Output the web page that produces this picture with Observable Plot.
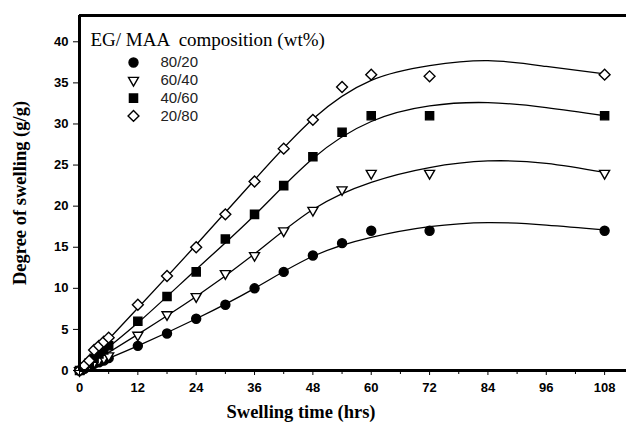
<!DOCTYPE html>
<html><head><meta charset="utf-8">
<script src="https://cdn.jsdelivr.net/npm/d3@7"></script>
<script src="https://cdn.jsdelivr.net/npm/@observablehq/plot@0.6"></script>
<style>
body{margin:0;background:#fff;}
#chart{position:relative;width:626px;height:427px;}
</style>
</head><body><div id="chart"></div>
<script>
// Data
const series = ["80/20", "60/40", "40/60", "20/80"];
const times = [0, 1, 2, 3, 4, 5, 6, 12, 18, 24, 30, 36, 42, 48, 54, 60, 72, 108];
const v8020 = [0, 0.2, 0.5, 0.8, 1.0, 1.2, 1.5, 3.0, 4.5, 6.3, 8.0, 10.0, 12.0, 14.0, 15.5, 17.0, 17.0, 17.0];
const v6040 = [0, 0.3, 0.7, 1.0, 1.3, 1.5, 1.8, 4.3, 6.8, 9.0, 11.8, 14.0, 17.0, 19.5, 22.0, 24.0, 24.0, 24.0];
const v4060 = [0, 0.4, 0.9, 1.5, 2.0, 2.5, 3.0, 6.0, 9.0, 12.0, 16.0, 19.0, 22.5, 26.0, 29.0, 31.0, 31.0, 31.0];
const v2080 = [0, 0.6, 1.2, 2.5, 3.0, 3.5, 4.0, 8.0, 11.5, 15.0, 19.0, 23.0, 27.0, 30.5, 34.5, 36.0, 35.8, 36.0];
// fitted curves, read at these times
const fitTimes = [0, 12, 24, 36, 48, 60, 72, 84, 96, 108];
const f8020 = [0, 3.0, 6.3, 10.0, 13.9, 16.2, 17.5, 18.0, 17.7, 17.1];
const f6040 = [0, 4.4, 9.0, 14.2, 19.6, 22.9, 24.7, 25.5, 25.2, 24.1];
const f4060 = [0, 5.8, 12.3, 18.9, 25.8, 30.3, 32.2, 32.6, 32.0, 31.0];
const f2080 = [0, 7.6, 15.3, 23.2, 30.6, 35.3, 37.1, 37.7, 37.0, 36.1];
const xTicks = [0, 12, 24, 36, 48, 60, 72, 84, 96, 108];
const xMinor = [6, 18, 30, 42, 54, 66, 78, 90, 102];
const yTicks = [0, 5, 10, 15, 20, 25, 30, 35, 40];
const legendTitle = "EG/ MAA  composition (wt%)";
const xLabel = "Swelling time (hrs)";
const yLabel = "Degree of swelling (g/g)";

const values = [v8020, v6040, v4060, v2080];
const fits = [f8020, f6040, f4060, f2080];
const symbols = [
  {symbol: "circle", fill: "black", stroke: "black", r: 4.5, rotate: 0},
  {symbol: "triangle", fill: "white", stroke: "black", r: 3.7, rotate: 180},
  {symbol: "square", fill: "black", stroke: "black", r: 4.6, rotate: 0},
  {symbol: "diamond2", fill: "white", stroke: "black", r: 4.9, rotate: 0}
];

const points = [], curves = [];
series.forEach((s, i) => {
  times.forEach((t, j) => points.push({series: s, i, t, v: values[i][j]}));
  fitTimes.forEach((t, j) => curves.push({series: s, t, v: fits[i][j]}));
});

const yMax = 43.2, xMax = 112.5;
const serif = "Liberation Serif, Times New Roman, serif";
const sans = "Liberation Sans, Arial, sans-serif";
const marks = [];
series.forEach((s, i) => {
  marks.push(Plot.line(curves.filter(d => d.series === s), {x: "t", y: "v", curve: "natural", stroke: "black", strokeWidth: 1.3}));
});
series.forEach((s, i) => {
  const sy = symbols[i];
  marks.push(Plot.dot(points.filter(d => d.series === s), {x: "t", y: "v", symbol: sy.symbol, r: sy.r, fill: sy.fill, stroke: sy.stroke, strokeWidth: 1.4, rotate: sy.rotate}));
});
// legend
marks.push(Plot.text([legendTitle], {frameAnchor: "top-left", dx: 11, dy: 24, lineAnchor: "middle", text: d => d, textAnchor: "start", fontFamily: serif, fontSize: 19, fill: "black"}));
series.forEach((s, i) => {
  const sy = symbols[i];
  marks.push(Plot.dot([s], {frameAnchor: "top-left", dx: 54, dy: 47 + i * 17.8, symbol: sy.symbol, r: sy.r, fill: sy.fill, stroke: sy.stroke, strokeWidth: 1.4, rotate: sy.rotate}));
  marks.push(Plot.text([s], {frameAnchor: "top-left", dx: 81, dy: 47 + i * 17.8, lineAnchor: "middle", text: d => d, textAnchor: "start", fontFamily: sans, fontSize: 15, fill: "#222"}));
});
// axes
marks.push(Plot.axisY({ticks: yTicks, tickSize: 6, tickPadding: 5, label: null, fontWeight: "bold", fontSize: 13}));
marks.push(Plot.axisX({ticks: xTicks, tickSize: 5, tickPadding: 7, label: null, fontWeight: "bold", fontSize: 13}));
marks.push(Plot.axisX({ticks: xMinor, tickSize: 4, tickFormat: () => "", label: null}));
marks.push(Plot.ruleX([0], {stroke: "black", strokeWidth: 3}));
marks.push(Plot.ruleY([0], {stroke: "black", strokeWidth: 3}));
marks.push(Plot.ruleY([yMax], {stroke: "black", strokeWidth: 3}));
// axis titles
marks.push(Plot.text([xLabel], {frameAnchor: "bottom", dy: 47, dx: -52, text: d => d, textAnchor: "middle", fontFamily: serif, fontWeight: "bold", fontSize: 18.5, fill: "black"}));
marks.push(Plot.text([yLabel], {frameAnchor: "left", dx: -59, dy: 0, rotate: -90, text: d => d, textAnchor: "middle", fontFamily: serif, fontWeight: "bold", fontSize: 18.5, fill: "black"}));

const chart = Plot.plot({
  width: 626, height: 427,
  marginLeft: 79, marginRight: 0, marginTop: 15, marginBottom: 57,
  x: {domain: [0, xMax]},
  y: {domain: [0, yMax]},
  style: {fontFamily: sans, fontSize: "13px", color: "black", background: "white", overflow: "visible"},
  marks
});
document.getElementById("chart").appendChild(chart);
</script>
</body></html>
